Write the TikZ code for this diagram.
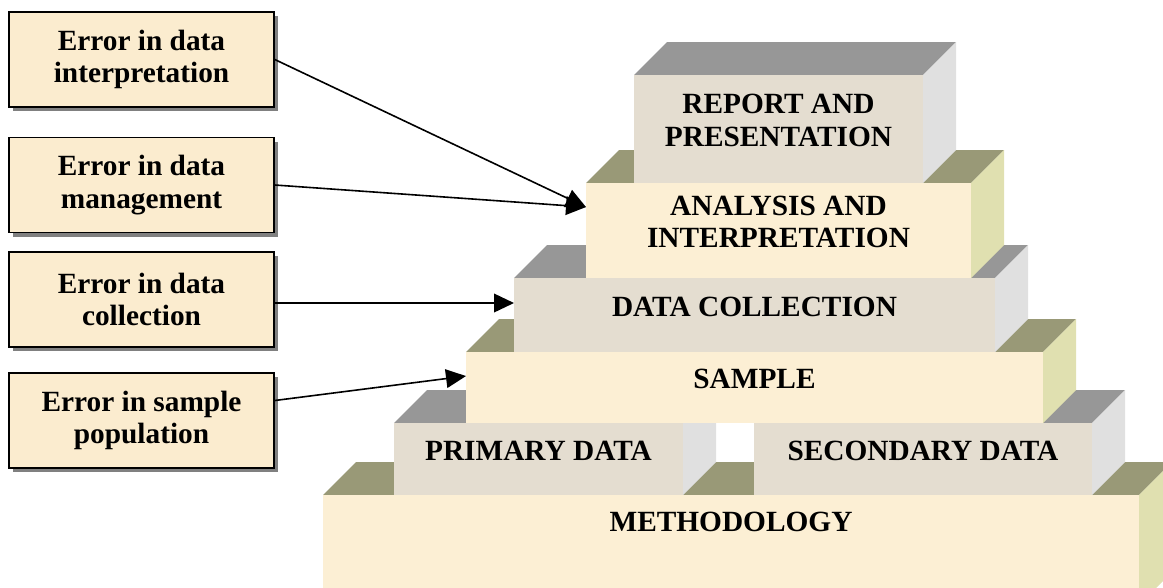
\documentclass[tikz,border=0pt]{standalone}
\usepackage{fontspec}
\setmainfont{Liberation Serif}
\usetikzlibrary{arrows.meta,shadows,positioning}
\definecolor{creamC}{HTML}{FCEFD4}
\definecolor{errC}{HTML}{FBECCF}
\definecolor{stoneC}{HTML}{E4DDD0}
\definecolor{topgray}{HTML}{979797}
\definecolor{sidegray}{HTML}{E0E0E0}
\definecolor{topolive}{HTML}{999977}
\definecolor{sidepale}{HTML}{E0E0B0}
\tikzset{
	px/.store in=\px,
	px=0.75pt,
	blk depth/.store in=\blkd,
	blk depth=33,
	blk/.code n args={4}{
		\pgfkeysalso{minimum width=#1*\px, minimum height=#2*\px, inner sep=0pt, outer sep=0pt,
			text depth=13pt, align=center,
			prefix after command={\pgfextra{\let\fixname\tikzlastnode}},
			append after command={\pgfextra{
				\fill[#3] (\fixname.north west) -- ++(\blkd,-\blkd) -- ([shift={(\blkd,-\blkd)}]\fixname.north east) -- (\fixname.north east) -- cycle;
				\fill[#4] (\fixname.north east) -- ++(\blkd,-\blkd) -- ([shift={(\blkd,-\blkd)}]\fixname.south east) -- (\fixname.south east) -- cycle;
			}}}
	},
	stone/.style 2 args={fill=stoneC, blk={#1}{#2}{topgray}{sidegray}},
	cream/.style 2 args={fill=creamC, blk={#1}{#2}{topolive}{sidepale}},
	err/.style={draw, line width=1.2pt, fill=errC, align=center, inner sep=0pt,
		minimum width=265*\px, minimum height=95*\px,
		drop shadow={shadow xshift=3pt, shadow yshift=-3pt, fill=black!50, opacity=1}},
	ar/.style={line width=1.2pt, -{Triangle[length=15pt,width=14pt]}}
}
\begin{document}
\begin{tikzpicture}[x=0.75pt, y=-0.75pt,
		every node/.style={font=\fontsize{22}{24.5}\selectfont\bfseries}]
	\useasboundingbox (0,0) rectangle (1163,587);
	\clip (0,0) rectangle (1163,587);
	% pyramid, bottom up
	\node[cream={816}{110}, text depth=42pt] (meth) at (731,550) {METHODOLOGY};
	\node[stone={289}{72}] (prim) at (538.5,459) {PRIMARY DATA};
	\node[stone={338}{72}] (sec) at (923,459) {SECONDARY DATA};
	\node[cream={577}{71}] (samp) at (754.5,387.5) {SAMPLE};
	\node[stone={481}{74}] (dcol) at (754.5,315) {DATA COLLECTION};
	\node[cream={385}{95}] (anal) at (778.5,230.5) {ANALYSIS AND\\INTERPRETATION};
	\node[stone={289}{108}] (rep) at (778.5,129) {REPORT AND\\PRESENTATION};
	% error boxes
	\node[err] (err1) at (141.5,59.5) {Error in data\\interpretation};
	\node[err] (err2) at (141.5,185) {Error in data\\management};
	\node[err] (err3) at (141.5,299.5) {Error in data\\collection};
	\node[err] (err4) at (141.5,420.5) {Error in sample\\population};
	\draw[ar] (err1.east) -- ([yshift=17.6pt]anal.west);
	\draw[ar] (err2.east) -- ([yshift=17.6pt]anal.west);
	\draw[ar] ([yshift=-2.6pt]err3.east) -- ([yshift=9pt]dcol.west);
	\draw[ar] ([yshift=15pt]err4.east) -- ([yshift=8.6pt]samp.west);
\end{tikzpicture}
\end{document}
